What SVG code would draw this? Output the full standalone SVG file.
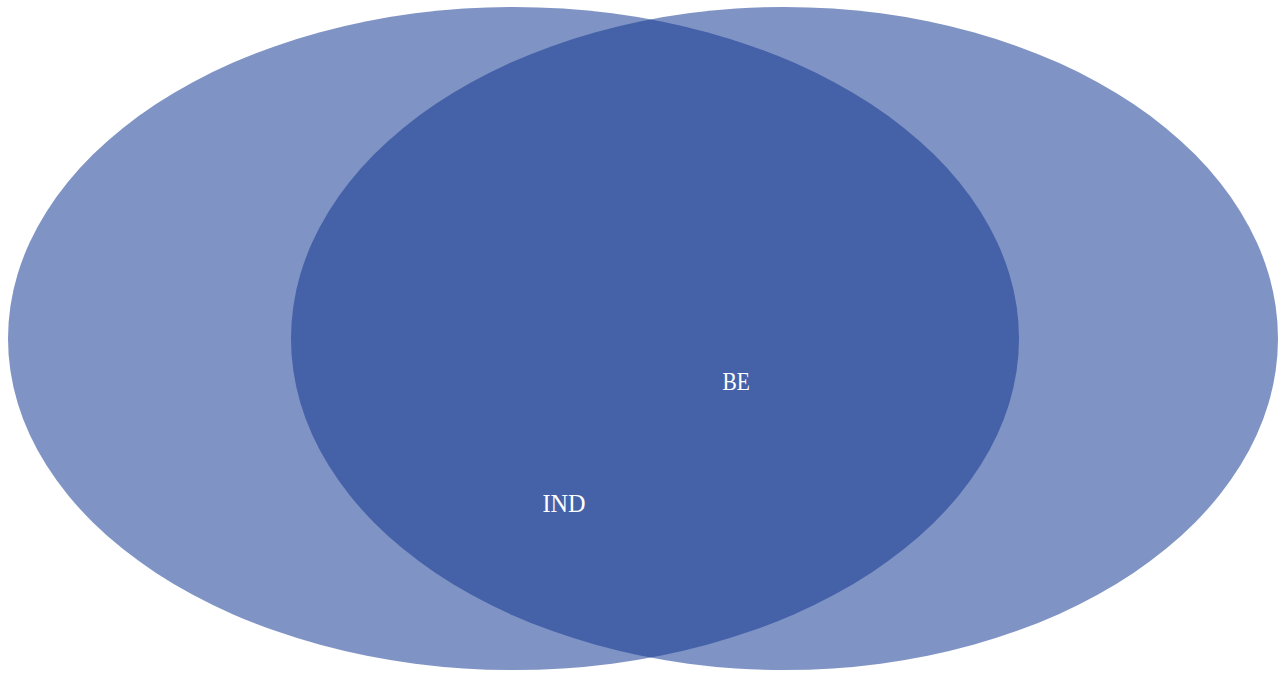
<svg xmlns="http://www.w3.org/2000/svg" width="1280" height="676" viewBox="0 0 1280 676">
<style>
.set{fill:rgb(21,57,146);fill-opacity:0.545}
.lbl{font-family:"Liberation Serif","Times New Roman",serif;font-size:26px;fill:#ffffff}
</style>
<rect width="1280" height="676" fill="#ffffff"/>
<g id="set-left"><ellipse class="set" cx="513.5" cy="338.5" rx="505.5" ry="331.5"/></g>
<g id="set-right"><ellipse class="set" cx="784.5" cy="338.5" rx="493.5" ry="331.5"/></g>
<g id="connectors"></g>
<g id="label-be"><text class="lbl" x="722.5" y="389.5" textLength="27.5" lengthAdjust="spacingAndGlyphs">BE</text></g>
<g id="label-ind"><text class="lbl" x="542.5" y="511.5" textLength="43" lengthAdjust="spacingAndGlyphs">IND</text></g>
</svg>
